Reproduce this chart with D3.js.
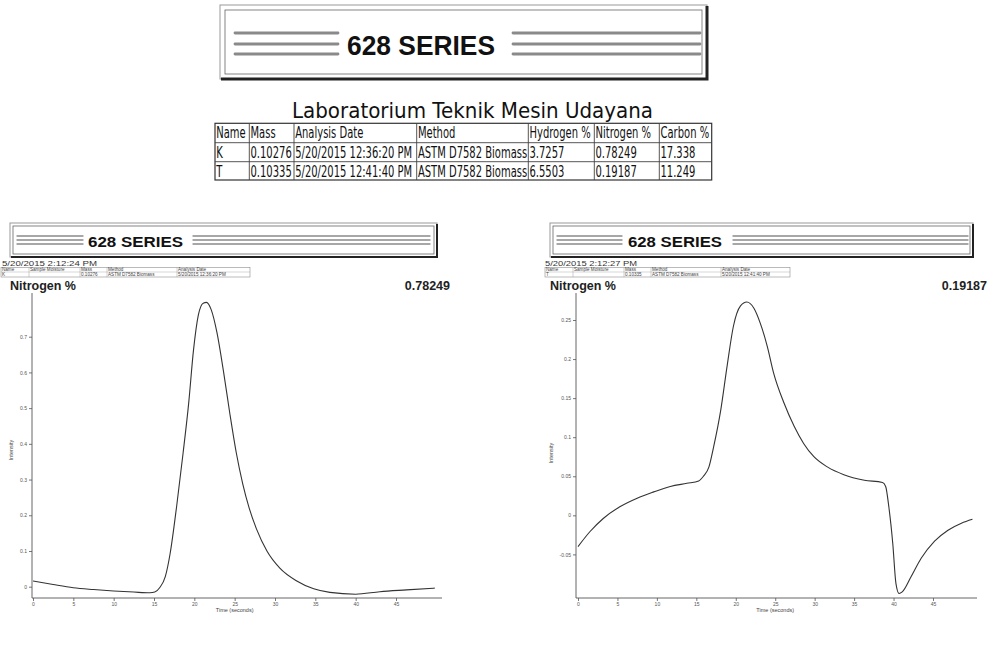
<!DOCTYPE html>
<html>
<head>
<meta charset="utf-8">
<script src="https://cdnjs.cloudflare.com/ajax/libs/d3/7.8.5/d3.min.js"></script>
<style>
  html, body { margin: 0; padding: 0; background: #fff; }
  svg { display: block; }
  .axis line { stroke: #777; }
  .axis text { font-family: "Liberation Sans", Arial, sans-serif; font-size: 5px; fill: #555; }
</style>
</head>
<body>
<div id="chart"></div>
<script>
  // summary table at the top of the report
  var tableHeaders = ["Name", "Mass", "Analysis Date", "Method", "Hydrogen %", "Nitrogen %", "Carbon %"];
  var tableRows = [
    ["K", "0.10276", "5/20/2015 12:36:20 PM", "ASTM D7582 Biomass", "3.7257", "0.78249", "17.338"],
    ["T", "0.10335", "5/20/2015 12:41:40 PM", "ASTM D7582 Biomass", "6.5503", "0.19187", "11.249"]
  ];

  // per-run header info
  var miniHeaders = ["Name", "Sample Moisture", "Mass", "Method", "Analysis Date"];
  var runNames = ["K", "T"];
  var runStamps = ["5/20/2015 2:12:24 PM", "5/20/2015 2:12:27 PM"];
  var runMass = ["0.10276", "0.10335"];
  var runMethod = ["ASTM D7582 Biomass", "ASTM D7582 Biomass"];
  var runDates = ["5/20/2015 12:36:20 PM", "5/20/2015 12:41:40 PM"];
  var runNitrogen = ["0.78249", "0.19187"];

  // nitrogen detector traces
  var timeK = [0, 2.5, 5, 7.5, 10, 12.5, 14.5, 15.1, 15.7, 16.4, 17, 17.8, 18.6, 19.3, 19.9, 20.5, 21.1, 21.5,
    22.1, 22.8, 23.6, 24.4, 25.2, 26, 26.8, 27.7, 29, 30.6, 32.7, 34.8, 36.8, 40, 43, 46.3, 49.8];
  var intensityK = [0.016, 0.006, -0.003, -0.008, -0.012, -0.015, -0.017, -0.015, -0.003, 0.028, 0.093, 0.224,
    0.373, 0.514, 0.663, 0.761, 0.794, 0.796, 0.775, 0.712, 0.605, 0.485, 0.375, 0.288, 0.220, 0.162, 0.100,
    0.052, 0.016, -0.006, -0.016, -0.021, -0.014, -0.009, -0.004];

  var timeT = [0, 1.5, 3.2, 5.3, 7.5, 9.6, 11.7, 13.8, 15.3, 15.9, 16.6, 17.2, 18.1, 18.9, 19.7, 20.6, 21.4,
    22.3, 23.1, 24, 24.8, 26.1, 27.4, 28.6, 29.9, 31.6, 33.7, 36.3, 38.6, 39, 39.4, 39.9, 40.3, 40.7, 41.1,
    42.2, 43.5, 45.2, 46.9, 48.6, 50];
  var intensityT = [-0.040, -0.021, -0.004, 0.011, 0.022, 0.030, 0.037, 0.041, 0.044, 0.050, 0.062, 0.088,
    0.135, 0.191, 0.242, 0.268, 0.273, 0.265, 0.246, 0.216, 0.182, 0.144, 0.114, 0.092, 0.075, 0.062, 0.052,
    0.045, 0.042, 0.037, 0.011, -0.036, -0.087, -0.100, -0.098, -0.079, -0.055, -0.033, -0.019, -0.010, -0.005];

  // tick labels
  var timeTicks = [0, 5, 10, 15, 20, 25, 30, 35, 40, 45];
  var intensityTicksK = [0, 0.1, 0.2, 0.3, 0.4, 0.5, 0.6, 0.7];
  var intensityTicksT = [-0.05, 0, 0.05, 0.1, 0.15, 0.2, 0.25];

  var svg = d3.select("#chart").append("svg")
      .attr("width", 989)
      .attr("height", 659);

  // "628 SERIES" banner box with striped rules either side
  function drawBanner(parent, b) {
    var g = parent.append("g");
    g.append("rect")
      .attr("x", b.x0).attr("y", b.y0)
      .attr("width", b.x1 - b.x0).attr("height", b.y1 - b.y0)
      .attr("fill", "#fff").attr("stroke", "#999").attr("stroke-width", 1);
    g.append("rect")
      .attr("x", b.x0 + b.inset).attr("y", b.y0 + b.inset)
      .attr("width", b.x1 - b.x0 - 2 * b.inset).attr("height", b.y1 - b.y0 - 2 * b.inset)
      .attr("fill", "none").attr("stroke", "#666").attr("stroke-width", 0.8);
    // heavy shadow on bottom and right
    g.append("path")
      .attr("d", "M" + (b.x0 + 1) + "," + b.y1 + "H" + b.x1 + "V" + (b.y0 + 1))
      .attr("fill", "none").attr("stroke", "#222").attr("stroke-width", b.edge);

    b.lineY.forEach(function(y) {
      [b.leftLines, b.rightLines].forEach(function(seg) {
        g.append("line")
          .attr("x1", seg[0]).attr("x2", seg[1])
          .attr("y1", y).attr("y2", y)
          .attr("stroke", "#8a8a8a").attr("stroke-width", b.rule)
          .attr("stroke-linecap", "round");
      });
    });

    g.append("text")
      .attr("x", b.labelX).attr("y", b.baseline)
      .attr("textLength", b.labelW).attr("lengthAdjust", "spacingAndGlyphs")
      .style("font-family", "'Liberation Sans', Arial, sans-serif")
      .style("font-weight", "bold")
      .style("font-size", b.size + "px")
      .attr("fill", "#111")
      .text(b.label);
  }

  drawBanner(svg, {
    x0: 220, x1: 707, y0: 5, y1: 79, inset: 5, edge: 3,
    leftLines: [235, 338], rightLines: [513, 700], lineY: [33, 44, 54], rule: 2.8,
    label: "628 SERIES", labelX: 347, labelW: 148, baseline: 55, size: 28
  });

  // lab title
  svg.append("text")
    .attr("x", 292).attr("y", 118)
    .attr("textLength", 361).attr("lengthAdjust", "spacingAndGlyphs")
    .style("font-family", "'DejaVu Sans', Verdana, sans-serif")
    .style("font-size", "21px")
    .attr("fill", "#111")
    .text("Laboratorium Teknik Mesin Udayana");

  // summary table
  var colX = [215, 249.3, 294, 416.7, 528.3, 594.3, 659.3, 711.7];
  var rowY = [123.3, 142.7, 161.7, 180];
  var tableG = svg.append("g");
  var allRows = [tableHeaders].concat(tableRows);

  tableG.append("rect")
    .attr("x", colX[0]).attr("y", rowY[0])
    .attr("width", colX[colX.length - 1] - colX[0]).attr("height", rowY[rowY.length - 1] - rowY[0])
    .attr("fill", "none").attr("stroke", "#333").attr("stroke-width", 1.2);
  colX.slice(1, -1).forEach(function(x) {
    tableG.append("line").attr("x1", x).attr("x2", x).attr("y1", rowY[0]).attr("y2", rowY[rowY.length - 1])
      .attr("stroke", "#444").attr("stroke-width", 0.9);
  });
  rowY.slice(1, -1).forEach(function(y) {
    tableG.append("line").attr("x1", colX[0]).attr("x2", colX[colX.length - 1]).attr("y1", y).attr("y2", y)
      .attr("stroke", "#444").attr("stroke-width", 0.9);
  });
  allRows.forEach(function(row, r) {
    row.forEach(function(cell, c) {
      tableG.append("text")
        .attr("transform", "translate(" + (colX[c] + 1.2) + "," + (rowY[r] + 14.8) + ") scale(0.74,1)")
        .style("font-family", "'DejaVu Sans Condensed', 'DejaVu Sans', sans-serif")
        .style("font-size", "15px")
        .attr("fill", "#111")
        .text(cell);
    });
  });

  // the two detector printouts
  var panels = [
    {
      run: 0, time: timeK, values: intensityK, yTicks: intensityTicksK,
      banner: { x0: 10, x1: 437, y0: 223, y1: 257, inset: 3, edge: 2,
        leftLines: [17, 83], rightLines: [193, 430], lineY: [236, 240, 244], rule: 1.3,
        label: "628 SERIES", labelX: 88, labelW: 95, baseline: 246.7, size: 14 },
      stampX: 2, stampW: 95, miniCols: [1, 29, 80, 107, 177, 250], titleX: 10, valueX: 450,
      axisX: 32, xRange: [33, 396], xEnd: 442, yDomain: [0, 0.7], yRange: [586.7, 336.7],
      yLabelX: 13, yLabelY: 450
    },
    {
      run: 1, time: timeT, values: intensityT, yTicks: intensityTicksT,
      banner: { x0: 550, x1: 973, y0: 223, y1: 257, inset: 3, edge: 2,
        leftLines: [557, 622], rightLines: [733, 968], lineY: [236, 240, 244], rule: 1.3,
        label: "628 SERIES", labelX: 628, labelW: 94, baseline: 246.7, size: 14 },
      stampX: 545, stampW: 92, miniCols: [545, 573, 624, 651, 721, 790], titleX: 550, valueX: 987,
      axisX: 576, xRange: [578, 933], xEnd: 977, yDomain: [-0.05, 0.25], yRange: [554.4, 320],
      yLabelX: 553, yLabelY: 453
    }
  ];

  var plotTop = 293, plotBottom = 598;
  var numFmt = function(d) { return String(+d.toFixed(2)); };

  function drawPanel(p) {
    var g = svg.append("g");
    drawBanner(g, p.banner);

    // print time stamp
    g.append("text")
      .attr("x", p.stampX).attr("y", 265.5)
      .attr("textLength", p.stampW).attr("lengthAdjust", "spacingAndGlyphs")
      .style("font-family", "'Liberation Sans', Arial, sans-serif")
      .style("font-size", "7.5px")
      .attr("fill", "#333")
      .text(runStamps[p.run]);

    // tiny run table
    var miniRows = [miniHeaders, [runNames[p.run], "", runMass[p.run], runMethod[p.run], runDates[p.run]]];
    var mY = [267.5, 272, 277];
    var cols = p.miniCols;
    g.append("rect")
      .attr("x", cols[0]).attr("y", mY[0]).attr("width", cols[cols.length - 1] - cols[0]).attr("height", mY[2] - mY[0])
      .attr("fill", "none").attr("stroke", "#777").attr("stroke-width", 0.5);
    g.append("line").attr("x1", cols[0]).attr("x2", cols[cols.length - 1]).attr("y1", mY[1]).attr("y2", mY[1])
      .attr("stroke", "#999").attr("stroke-width", 0.4);
    cols.slice(1, -1).forEach(function(x) {
      g.append("line").attr("x1", x).attr("x2", x).attr("y1", mY[0]).attr("y2", mY[2])
        .attr("stroke", "#888").attr("stroke-width", 0.4);
    });
    miniRows.forEach(function(row, r) {
      row.forEach(function(cell, c) {
        g.append("text")
          .attr("x", cols[c] + 1).attr("y", mY[r] + 3.8)
          .style("font-family", "'Liberation Sans', Arial, sans-serif")
          .style("font-size", "4.6px")
          .attr("fill", "#444")
          .text(cell);
      });
    });

    // title and result value
    g.append("text")
      .attr("x", p.titleX).attr("y", 289.5)
      .style("font-family", "'Liberation Sans', Arial, sans-serif")
      .style("font-weight", "bold").style("font-size", "12.5px")
      .attr("fill", "#222")
      .text("Nitrogen %");
    g.append("text")
      .attr("x", p.valueX).attr("y", 289.5)
      .attr("text-anchor", "end")
      .style("font-family", "'Liberation Sans', Arial, sans-serif")
      .style("font-weight", "bold").style("font-size", "12.5px")
      .attr("fill", "#222")
      .text(runNitrogen[p.run]);

    // scales
    var x = d3.scaleLinear().domain([0, 45]).range(p.xRange);
    var y = d3.scaleLinear().domain(p.yDomain).range(p.yRange);

    // axes
    g.append("g")
      .attr("class", "axis")
      .attr("transform", "translate(" + p.axisX + ",0)")
      .call(d3.axisLeft(y).tickValues(p.yTicks).tickSize(3).tickPadding(2).tickFormat(numFmt))
      .select(".domain").remove();
    g.append("g")
      .attr("class", "axis")
      .attr("transform", "translate(0," + plotBottom + ")")
      .call(d3.axisBottom(x).tickValues(timeTicks).tickSize(3).tickPadding(1.5).tickFormat(numFmt))
      .select(".domain").remove();

    g.append("line")
      .attr("x1", p.axisX).attr("x2", p.axisX).attr("y1", plotTop).attr("y2", plotBottom)
      .attr("stroke", "#555").attr("stroke-width", 0.9);
    g.append("line")
      .attr("x1", p.axisX).attr("x2", p.xEnd).attr("y1", plotBottom).attr("y2", plotBottom)
      .attr("stroke", "#555").attr("stroke-width", 0.9);

    // axis titles
    g.append("text")
      .attr("x", x(25)).attr("y", 612)
      .attr("text-anchor", "middle")
      .style("font-family", "'Liberation Sans', Arial, sans-serif")
      .style("font-size", "5.5px").attr("fill", "#444")
      .text("Time (seconds)");
    g.append("text")
      .attr("transform", "translate(" + p.yLabelX + "," + p.yLabelY + ") rotate(-90)")
      .attr("text-anchor", "middle")
      .style("font-family", "'Liberation Sans', Arial, sans-serif")
      .style("font-size", "5.5px").attr("fill", "#444")
      .text("Intensity");

    // trace
    var line = d3.line()
        .curve(d3.curveMonotoneX)
        .x(function(d) { return x(d[0]); })
        .y(function(d) { return y(d[1]); });

    g.append("path")
      .datum(d3.zip(p.time, p.values))
      .attr("d", line)
      .attr("fill", "none")
      .attr("stroke", "#333")
      .attr("stroke-width", 1.1);
  }

  panels.forEach(drawPanel);
</script>
</body>
</html>
